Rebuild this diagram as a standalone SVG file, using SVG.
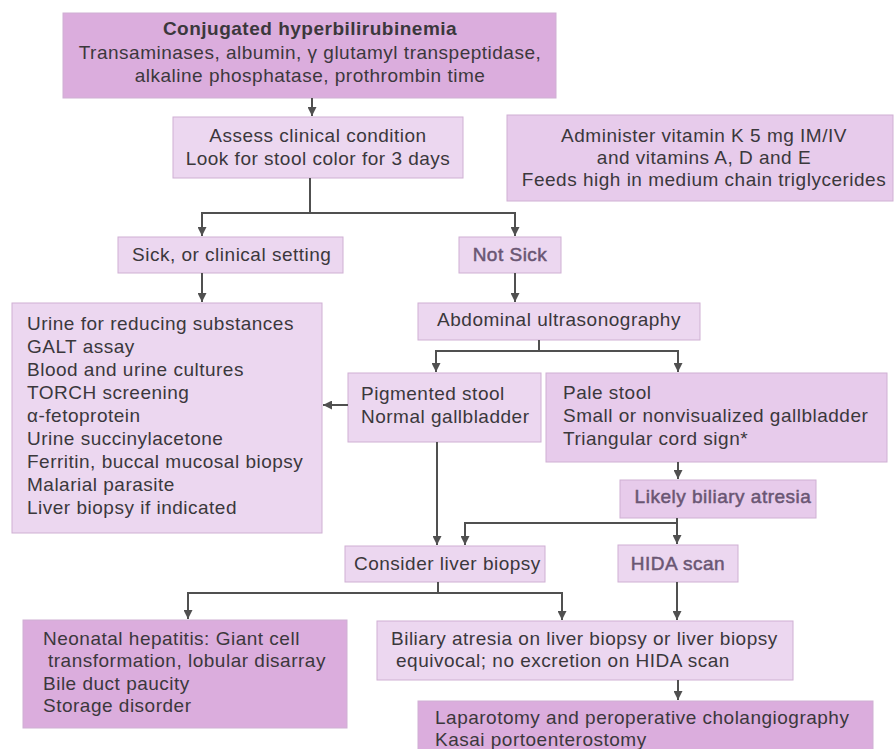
<svg xmlns="http://www.w3.org/2000/svg" width="895" height="749" viewBox="0 0 895 749">
<style>
text{font-family:"Liberation Sans",Arial,sans-serif;font-size:19px;letter-spacing:0.5px;fill:#3b383c}
.c{text-anchor:middle}
.b{font-weight:bold}
.f{fill:#6a5673;stroke:#6a5673;stroke-width:0.5}
.box{stroke:#cfb0d3;stroke-width:1}
.dark{fill:#dbaddd}
.light{fill:#ecd7f0}
.mid{fill:#e7cbeb}
.conn path{fill:none;stroke:#505050;stroke-width:2}
</style>
<defs>
<marker id="ah" viewBox="0 0 10 10" refX="10" refY="5" markerWidth="9" markerHeight="9" markerUnits="userSpaceOnUse" orient="auto">
<path d="M0,0 L10,5 L0,10 z" fill="#505050"/>
</marker>
</defs>
<rect width="895" height="749" fill="#ffffff"/>
<g id="n-conjugated">
<rect class="box dark" x="63" y="13" width="493" height="85"/>
<text class="c b" x="310" y="35">Conjugated hyperbilirubinemia</text>
<text class="c" x="310" y="59">Transaminases, albumin, γ glutamyl transpeptidase,</text>
<text class="c" x="310" y="82">alkaline phosphatase, prothrombin time</text>
</g>
<g id="n-assess">
<rect class="box light" x="173" y="117" width="290" height="61"/>
<text class="c" x="318" y="142">Assess clinical condition</text>
<text class="c" x="318" y="165">Look for stool color for 3 days</text>
</g>
<g id="n-vitamin">
<rect class="box mid" x="507" y="115" width="386" height="86"/>
<text class="c" x="704" y="142">Administer vitamin K 5 mg IM/IV</text>
<text class="c" x="704" y="164">and vitamins A, D and E</text>
<text class="c" x="704" y="186">Feeds high in medium chain triglycerides</text>
</g>
<g id="n-sick">
<rect class="box light" x="118" y="237" width="225" height="36"/>
<text x="132" y="261">Sick, or clinical setting</text>
</g>
<g id="n-notsick">
<rect class="box light" x="459" y="237" width="102" height="36"/>
<text class="c f" x="510" y="261">Not Sick</text>
</g>
<g id="n-urine">
<rect class="box light" x="12" y="303" width="310" height="230"/>
<text x="27" y="330">Urine for reducing substances</text>
<text x="27" y="353">GALT assay</text>
<text x="27" y="376">Blood and urine cultures</text>
<text x="27" y="399">TORCH screening</text>
<text x="27" y="422">α-fetoprotein</text>
<text x="27" y="445">Urine succinylacetone</text>
<text x="27" y="468">Ferritin, buccal mucosal biopsy</text>
<text x="27" y="491">Malarial parasite</text>
<text x="27" y="514">Liver biopsy if indicated</text>
</g>
<g id="n-abdominal">
<rect class="box light" x="418" y="303" width="282" height="37"/>
<text class="c" x="559" y="326">Abdominal ultrasonography</text>
</g>
<g id="n-pigmented">
<rect class="box light" x="348" y="373" width="193" height="69"/>
<text x="361" y="400">Pigmented stool</text>
<text x="361" y="423">Normal gallbladder</text>
</g>
<g id="n-pale">
<rect class="box mid" x="546" y="373" width="341" height="89"/>
<text x="563" y="399">Pale stool</text>
<text x="563" y="422">Small or nonvisualized gallbladder</text>
<text x="563" y="445">Triangular cord sign*</text>
</g>
<g id="n-likely">
<rect class="box mid" x="620" y="480" width="196" height="38"/>
<text class="c f" x="723" y="503">Likely biliary atresia</text>
</g>
<g id="n-consider">
<rect class="box light" x="345" y="546" width="200" height="36"/>
<text x="354" y="570">Consider liver biopsy</text>
</g>
<g id="n-hida">
<rect class="box light" x="618" y="545" width="120" height="37"/>
<text class="c f" x="678" y="570">HIDA scan</text>
</g>
<g id="n-neonatal">
<rect class="box dark" x="23" y="620" width="324" height="108"/>
<text x="43" y="645">Neonatal hepatitis: Giant cell</text>
<text x="48" y="667">transformation, lobular disarray</text>
<text x="43" y="690">Bile duct paucity</text>
<text x="43" y="712">Storage disorder</text>
</g>
<g id="n-biliary">
<rect class="box light" x="377" y="621" width="416" height="59"/>
<text x="391" y="645">Biliary atresia on liver biopsy or liver biopsy</text>
<text x="396" y="667">equivocal; no excretion on HIDA scan</text>
</g>
<g id="n-laparotomy">
<rect class="box dark" x="418" y="701" width="455" height="60"/>
<text x="435" y="724">Laparotomy and peroperative cholangiography</text>
<text x="435" y="746">Kasai portoenterostomy</text>
</g>
<g class="conn" id="connectors">
<path d="M312,98 V116" marker-end="url(#ah)"/>
<path d="M310,178 V213 H202 V236" marker-end="url(#ah)"/>
<path d="M310,213 H515 V236" marker-end="url(#ah)"/>
<path d="M202,273 V302" marker-end="url(#ah)"/>
<path d="M515,273 V302" marker-end="url(#ah)"/>
<path d="M539,340 V351 H436 V372" marker-end="url(#ah)"/>
<path d="M539,351 H678 V372" marker-end="url(#ah)"/>
<path d="M348,405 H323" marker-end="url(#ah)"/>
<path d="M678,462 V479" marker-end="url(#ah)"/>
<path d="M677,518 V544" marker-end="url(#ah)"/>
<path d="M677,523 H465 V545" marker-end="url(#ah)"/>
<path d="M437,442 V545" marker-end="url(#ah)"/>
<path d="M438,582 V593 H188 V619" marker-end="url(#ah)"/>
<path d="M438,593 H562 V620" marker-end="url(#ah)"/>
<path d="M677,582 V620" marker-end="url(#ah)"/>
<path d="M678,680 V700" marker-end="url(#ah)"/>
</g>
</svg>
